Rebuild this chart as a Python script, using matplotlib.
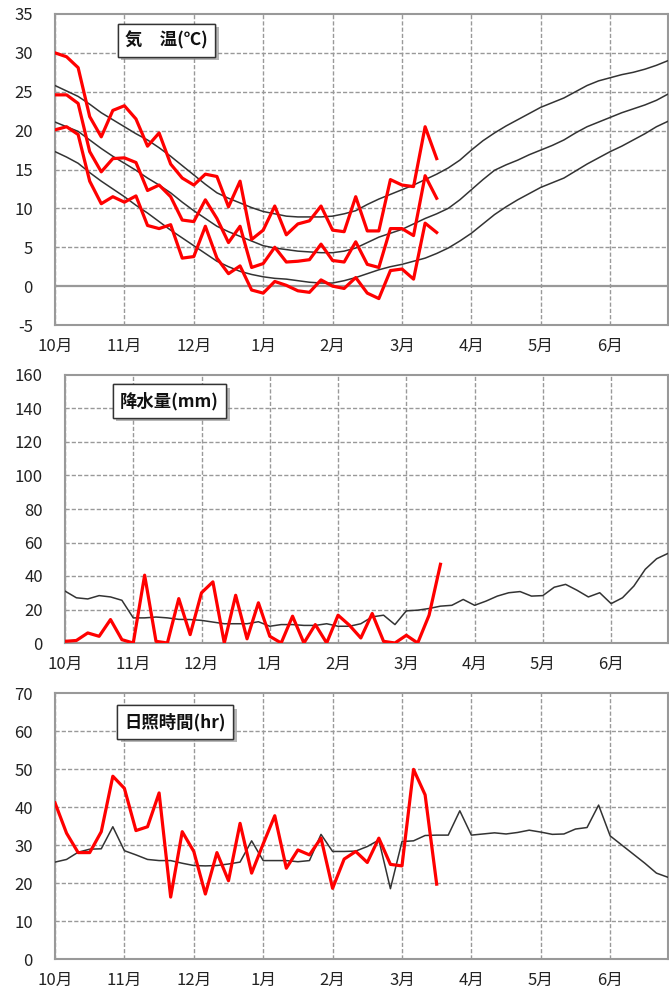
import matplotlib
matplotlib.use("Agg")
import matplotlib.pyplot as plt
import matplotlib.patheffects as pe
import numpy as np

plt.rcParams['font.family'] = ['Noto Sans CJK JP', 'DejaVu Sans']
plt.rcParams['axes.unicode_minus'] = False

months = ['10月', '11月', '12月', '1月', '2月', '3月', '4月', '5月', '6月']
per_month = 6
n_points = 54

# Temperature (半旬) observed
tmax_obs = [30.0, 29.5, 28.1, 21.8, 19.2, 22.6, 23.2, 21.5, 18.0, 19.7, 15.7, 13.9, 13.0, 14.4, 14.1, 10.2,
            13.5, 6.0, 7.2, 10.3, 6.6, 8.0, 8.4, 10.3, 7.2, 7.0, 11.5, 7.1, 7.1, 13.7, 13.0, 12.8, 20.5, 16.4]
tmean_obs = [24.6, 24.6, 23.5, 17.3, 14.7, 16.4, 16.5, 15.9, 12.3, 13.0, 11.5, 8.5, 8.3, 11.1, 8.7, 5.6,
             7.7, 2.4, 2.9, 5.0, 3.1, 3.2, 3.4, 5.4, 3.3, 3.1, 5.7, 2.8, 2.4, 7.4, 7.4, 6.5, 14.2, 11.3]
tmin_obs = [20.1, 20.5, 19.5, 13.5, 10.6, 11.5, 10.8, 11.6, 7.8, 7.4, 7.9, 3.6, 3.8, 7.7, 3.6, 1.6,
            2.6, -0.5, -0.9, 0.6, 0.1, -0.6, -0.8, 0.8, 0.0, -0.3, 1.1, -0.9, -1.6, 2.0, 2.2, 0.9, 8.1, 6.9]

# Temperature normals
tmax_norm = [25.8, 25.1, 24.4, 23.4, 22.3, 21.4, 20.5, 19.6, 18.8, 17.8, 16.7, 15.5, 14.3, 13.1, 12.0, 11.3,
             10.7, 10.1, 9.6, 9.3, 9.0, 8.9, 8.9, 8.9, 9.0, 9.3, 9.7, 10.5, 11.2, 11.8, 12.4, 13.0, 13.7, 14.4,
             15.2, 16.2, 17.5, 18.7, 19.7, 20.6, 21.4, 22.2, 23.0, 23.6, 24.2, 25.0, 25.8, 26.4, 26.8, 27.2,
             27.5, 27.9, 28.4, 29.0]
tmean_norm = [21.1, 20.5, 19.9, 18.8, 17.7, 16.7, 15.8, 14.9, 13.9, 13.0, 12.0, 10.8, 9.7, 8.7, 7.7, 7.0,
              6.4, 5.8, 5.2, 4.9, 4.7, 4.5, 4.4, 4.3, 4.3, 4.5, 4.9, 5.6, 6.3, 6.8, 7.3, 8.0, 8.7, 9.3,
              10.0, 11.1, 12.4, 13.7, 14.9, 15.6, 16.2, 16.9, 17.5, 18.1, 18.8, 19.7, 20.5, 21.1, 21.7, 22.3,
              22.8, 23.3, 23.9, 24.7]
tmin_norm = [17.3, 16.6, 15.8, 14.6, 13.5, 12.5, 11.5, 10.4, 9.4, 8.3, 7.2, 6.2, 5.2, 4.2, 3.2, 2.5,
             1.9, 1.5, 1.2, 1.0, 0.9, 0.7, 0.5, 0.4, 0.4, 0.7, 1.1, 1.6, 2.1, 2.5, 2.8, 3.2, 3.6, 4.2,
             4.9, 5.8, 6.8, 8.0, 9.2, 10.2, 11.1, 11.9, 12.7, 13.3, 13.9, 14.8, 15.7, 16.5, 17.3, 18.0,
             18.8, 19.6, 20.5, 21.2]

# Precipitation (mm)
prec_obs = [1, 1.5, 6, 4, 14, 2, 0, 40.5, 1, 0, 26.5, 5, 30, 36.5, 0, 28.5, 2.5, 24, 4, 0, 16, 0, 11, 0,
            16.6, 10.6, 3, 17.6, 1, 0, 4.6, 0, 16.6, 47]
prec_norm = [31, 27, 26.3, 28.3, 27.5, 25.5, 15, 15, 15.5, 15, 14.1, 14, 13.5, 12.5, 11.5, 11.5, 11.5, 12.7,
             10, 11, 11, 10.5, 10.5, 11.5, 10, 10, 11.5, 15.6, 16.6, 11, 19.2, 19.6, 20.6, 22, 22.5, 26,
             22.5, 25, 28, 30, 30.7, 28, 28.3, 33.3, 35, 31.5, 27.5, 30, 23.5, 27, 34, 44, 50.3, 53.5]

# Sunshine duration (hr)
sun_obs = [41.1, 33.1, 28.0, 28.0, 33.5, 48.1, 44.9, 33.8, 34.8, 43.7, 16.3, 33.5, 28.3, 17.1, 28.0, 20.6,
           35.7, 22.6, 30.3, 37.7, 23.9, 28.7, 27.4, 31.8, 18.6, 26.3, 28.3, 25.4, 31.8, 24.9, 24.5, 49.9,
           43.2, 19.7]
sun_norm = [25.5, 26.2, 28.1, 28.9, 29.0, 34.8, 28.5, 27.4, 26.2, 25.9, 25.9, 25.2, 24.6, 24.5, 24.6, 25.0,
            25.5, 31.1, 25.9, 25.9, 25.9, 25.6, 25.9, 32.8, 28.3, 28.3, 28.4, 29.6, 31.3, 18.5, 30.9, 31.1,
            32.5, 32.6, 32.6, 39.0, 32.6, 32.9, 33.2, 32.9, 33.3, 33.9, 33.4, 32.8, 32.9, 34.2, 34.6, 40.5,
            32.4, 30.0, 27.6, 25.2, 22.6, 21.5]

titles = ['気　温(℃)', '降水量(mm)', '日照時間(hr)']

W, H = 669, 991
fig = plt.figure(figsize=(W / 100, H / 100), dpi=100)

def frac(left, top, right, bottom):
    return [left / W, 1 - bottom / H, (right - left) / W, (bottom - top) / H]

RED = '#ff0000'
BLK = '#333333'
GRID = '#999999'
DASH = (0, (3, 1.5))

def style(ax, yticks, ylim, title, tpos, zero_line=False):
    ax.set_xlim(0, n_points - 1)
    ax.set_ylim(*ylim)
    ax.set_yticks(yticks)
    ax.set_xticks(np.arange(len(months)) * per_month)
    ax.set_xticklabels(months)
    ax.tick_params(axis='both', length=0, labelsize=12, colors='#222222')
    ax.tick_params(axis='y', pad=16)
    ax.tick_params(axis='x', pad=9)
    for s in ax.spines.values():
        s.set_color(GRID)
        s.set_linewidth(1.5)
    ax.grid(True, axis='x', color=GRID, linestyle=DASH, linewidth=1.0)
    for v in yticks:
        if v == ylim[0] or v == ylim[1]:
            continue
        if zero_line and v == 0:
            ax.axhline(0, color=GRID, linewidth=1.6, zorder=1.5)
        else:
            ax.axhline(v, color=GRID, linestyle=DASH, linewidth=1.0, zorder=1)
    ax.set_axisbelow(True)
    t = ax.text(tpos[0], tpos[1], title, transform=ax.transAxes, ha='center', va='center',
                fontsize=12.5, fontweight='bold', color='#111111', zorder=10,
                bbox=dict(boxstyle='square,pad=0.42', facecolor='white', edgecolor='#333333', linewidth=1.0))
    t.get_bbox_patch().set_path_effects([pe.withSimplePatchShadow(offset=(2.5, -2.5), shadow_rgbFace='#888888', alpha=0.6), pe.Normal()])

xn = np.arange(n_points)
xo = np.arange(len(tmax_obs))

# Panel 1: temperature
ax1 = fig.add_axes(frac(55, 14, 668, 325))
for arr in (tmax_norm, tmean_norm, tmin_norm):
    ax1.plot(xn, arr, color=BLK, linewidth=1.1, zorder=3)
for arr in (tmax_obs, tmean_obs, tmin_obs):
    ax1.plot(xo, arr, color=RED, linewidth=2.3, zorder=4)
style(ax1, np.arange(-5, 36, 5), (-5, 35), titles[0], (0.182, 0.915), zero_line=True)

# Panel 2: precipitation
ax2 = fig.add_axes(frac(65, 375, 668, 643))
ax2.plot(xn, prec_norm, color=BLK, linewidth=1.1, zorder=3)
ax2.plot(np.arange(len(prec_obs)), prec_obs, color=RED, linewidth=2.3, zorder=4)
style(ax2, np.arange(0, 161, 20), (0, 160), titles[1], (0.173, 0.903))

# Panel 3: sunshine
ax3 = fig.add_axes(frac(55, 693, 668, 959))
ax3.plot(xn, sun_norm, color=BLK, linewidth=1.1, zorder=3)
ax3.plot(np.arange(len(sun_obs)), sun_obs, color=RED, linewidth=2.3, zorder=4)
style(ax3, np.arange(0, 71, 10), (0, 70), titles[2], (0.196, 0.891))

fig.savefig('out.png', dpi=100)
